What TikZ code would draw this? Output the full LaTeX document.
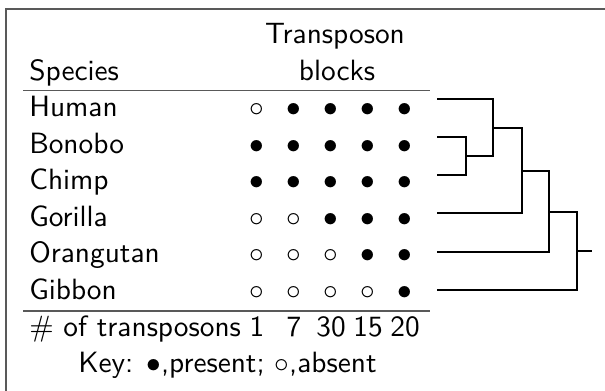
\documentclass[tikz,border=0pt]{standalone}
\usepackage{graphicx}
\newcommand\sxf{2.2}
\newcommand\syf{2.2}
\newcommand\tx[1]{\scalebox{\sxf}[\syf]{\sffamily #1}}
\begin{document}
\begin{tikzpicture}[x=0.75pt,y=-0.75pt,
  lbl/.style={inner sep=0pt, anchor=base west},
  ctr/.style={inner sep=0pt, anchor=base},
  rulel/.style={draw=black!65, line width=1.1pt},
  framel/.style={draw=black!65, line width=1.2pt},
  tree/.style={draw=black, line width=1.5pt, line join=miter}]
\useasboundingbox (0,0) rectangle (605,390);
\clip (0,0) rectangle (605,390);
\draw[framel] (6,9) rectangle (650,430);
% header
\node[ctr] (hT) at (335,43) {\tx{Transposon}};
\node[ctr] (hB) at (337,80) {\tx{blocks}};
\node[lbl] (hS) at (29,80) {\tx{Species}};
\draw[rulel] (23,90.5) -- (430,90.5);
% rows
\foreach \nm/\yy/\pat [count=\r] in {Human/116.5/{0,1,1,1,1},Bonobo/153/{1,1,1,1,1},Chimp/189.5/{1,1,1,1,1},Gorilla/226/{0,0,1,1,1},Orangutan/262.5/{0,0,0,1,1},Gibbon/299/{0,0,0,0,1}}{
  \node[lbl] (s\r) at (29,\yy) {\tx{\nm}};
  \foreach \v [count=\c] in \pat {
    \pgfmathsetmacro\xx{257+37*(\c-1)}
    \node[ctr] (d\r-\c) at (\xx,\yy) {\tx{\ifnum\v=1 $\bullet$\else $\circ$\fi}};
  }
}
\draw[rulel] (23,311) -- (430,311);
\node[lbl] (nl) at (29,336) {\tx{$\#$ of transposons}};
\foreach \n [count=\c] in {1,7,30,15,20}{
  \pgfmathsetmacro\xx{257+37*(\c-1)}
  \node[ctr] (n\c) at (\xx,336) {\tx{\n}};
}
\node[lbl] (key) at (78,372) {\tx{Key: $\bullet$,present; $\circ$,absent}};
% tree
\coordinate (lH) at (437,99);
\coordinate (lB) at (437,137);
\coordinate (lC) at (437,175);
\coordinate (lG) at (437,213);
\coordinate (lO) at (437,252);
\coordinate (lGi) at (437,290);
\coordinate (nBC) at (466,156);
\coordinate (nHBC) at (493,127.5);
\coordinate (nG) at (522,170.5);
\coordinate (nO) at (549,211.5);
\coordinate (nGi) at (577,251);
\coordinate (root) at (592,251);
\draw[tree] (lB) -| (nBC) |- (lC);
\draw[tree] (lH) -| (nHBC) |- (nBC);
\draw[tree] (nHBC) -| (nG) |- (lG);
\draw[tree] (nG) -| (nO) |- (lO);
\draw[tree] (nO) -| (nGi) |- (lGi);
\draw[tree] (nGi) -- (root);
\end{tikzpicture}
\end{document}
